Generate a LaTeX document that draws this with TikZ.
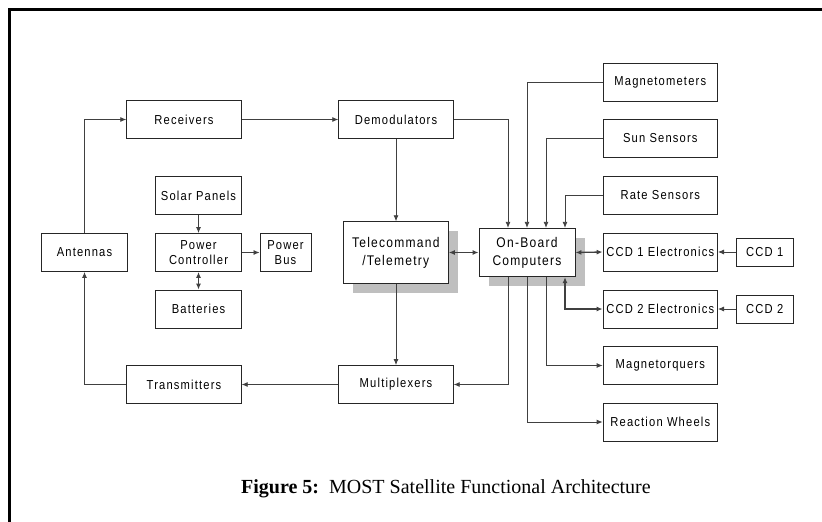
\documentclass[tikz,border=0pt]{standalone}
\usepackage{fontspec}
\setmainfont{Liberation Serif}
\newfontfamily\boxfont[LetterSpace=9,FakeStretch=0.86]{Liberation Sans}
\usetikzlibrary{arrows.meta,calc,shadows}
\begin{document}
\begin{tikzpicture}[x=1pt,y=-1pt,
  blk/.style={draw=black!85,line width=0.9pt,fill=white,inner sep=0pt,align=center,
    font=\boxfont\fontsize{13pt}{14.7pt}\selectfont},
  wide/.style={blk,minimum width=114.5pt,minimum height=38pt},
  narrow/.style={blk,minimum width=85.6pt,minimum height=38pt},
  tiny/.style={blk,minimum width=57.3pt,minimum height=28pt},
  shad/.style={drop shadow={shadow xshift=9.5pt,shadow yshift=-9.4pt,opacity=1,fill=black!25,draw=none}},
  conn/.style={draw=black!75,line width=0.8pt},
  arr/.style={conn,-{Latex[length=6pt,width=5pt]}},
  darr/.style={conn,line width=1.3pt,{Latex[length=6pt,width=5pt]}-{Latex[length=6pt,width=5pt]}}
]
\useasboundingbox (0,0) rectangle (822,522);
\draw[line width=3.2pt] (9.5,522) -- (9.5,9.5) -- (822,9.5);

% left and centre
\node[wide] (rec) at (184,119.5) {Receivers};
\node[wide] (dem) at (396,119.5) {Demodulators};
\node[narrow] (sol) at (198.5,195.5) {Solar Panels};
\node[narrow] (pc) at (198.5,252.5) {Power\\Controller};
\node[blk,minimum width=51pt,minimum height=38pt] (pbus) at (285.5,252.5) {Power\\Bus};
\node[narrow] (bat) at (198.5,309) {Batteries};
\node[narrow] (ant) at (84.5,252.5) {Antennas};
\node[wide] (tra) at (184,384.5) {Transmitters};
\node[wide] (mux) at (396,384.5) {Multiplexers};
\node[blk,shad,minimum width=105pt,minimum height=61.6pt,font=\boxfont\fontsize{14pt}{18pt}\selectfont] (tc) at (395.8,252.5) {Telecommand\\/Telemetry};
\node[blk,shad,minimum width=96pt,minimum height=48.4pt,font=\boxfont\fontsize{14pt}{18pt}\selectfont] (obc) at (527,252.5) {On-Board\\Computers};

% right column
\node[wide] (mag) at (660.3,82) {Magnetometers};
\node[wide] (sun) at (660.3,138.5) {Sun Sensors};
\node[wide] (rate) at (660.3,195.5) {Rate Sensors};
\node[wide] (ccd1e) at (660.3,252) {CCD 1 Electronics};
\node[wide] (ccd2e) at (660.3,309) {CCD 2 Electronics};
\node[wide] (mtq) at (660.3,365.5) {Magnetorquers};
\node[wide] (rw) at (660.3,422) {Reaction Wheels};
\node[tiny] (ccd1) at (764.7,252) {CCD 1};
\node[tiny] (ccd2) at (764.7,309) {CCD 2};

% caption
\node[anchor=base west,inner sep=0pt,font=\fontsize{20pt}{24pt}\selectfont] (cap) at (241,493)
  {\textbf{Figure 5:}\ \ MOST Satellite Functional Architecture};

% connectors
\draw[arr] (ant.north) |- (rec.west);
\draw[arr] (rec.east) -- (dem.west);
\draw[arr] (dem.east) -| ([xshift=-19pt]obc.north);
\draw[arr] (dem.south) -- (dem.south |- tc.north);
\draw[arr] (mag.west) -| (obc.north);
\draw[arr] (sun.west) -| ([xshift=19pt]obc.north);
\draw[arr] (rate.west) -| ([xshift=38pt]obc.north);
\draw[arr] (sol.south) -- (pc.north);
\draw[arr] (pc.east) -- (pbus.west);
\draw[darr] (pc.south) -- (bat.north);
\draw[darr] (tc.east) -- (obc.west);
\draw[darr] (obc.east) -- (ccd1e.west);
\draw[arr] (ccd1.west) -- (ccd1e.east);
\draw[arr] (ccd2.west) -- (ccd2e.east);
\draw[darr] ([xshift=38pt]obc.south) |- (ccd2e.west);
\draw[arr] ([xshift=-19pt]obc.south) |- (mux.east);
\draw[arr] (obc.south) |- (rw.west);
\draw[arr] ([xshift=19pt]obc.south) |- (mtq.west);
\draw[arr] (dem.south |- tc.south) -- (dem.south |- mux.north);
\draw[arr] (mux.west) -- (tra.east);
\draw[arr] (tra.west) -| (ant.south);
\end{tikzpicture}
\end{document}
